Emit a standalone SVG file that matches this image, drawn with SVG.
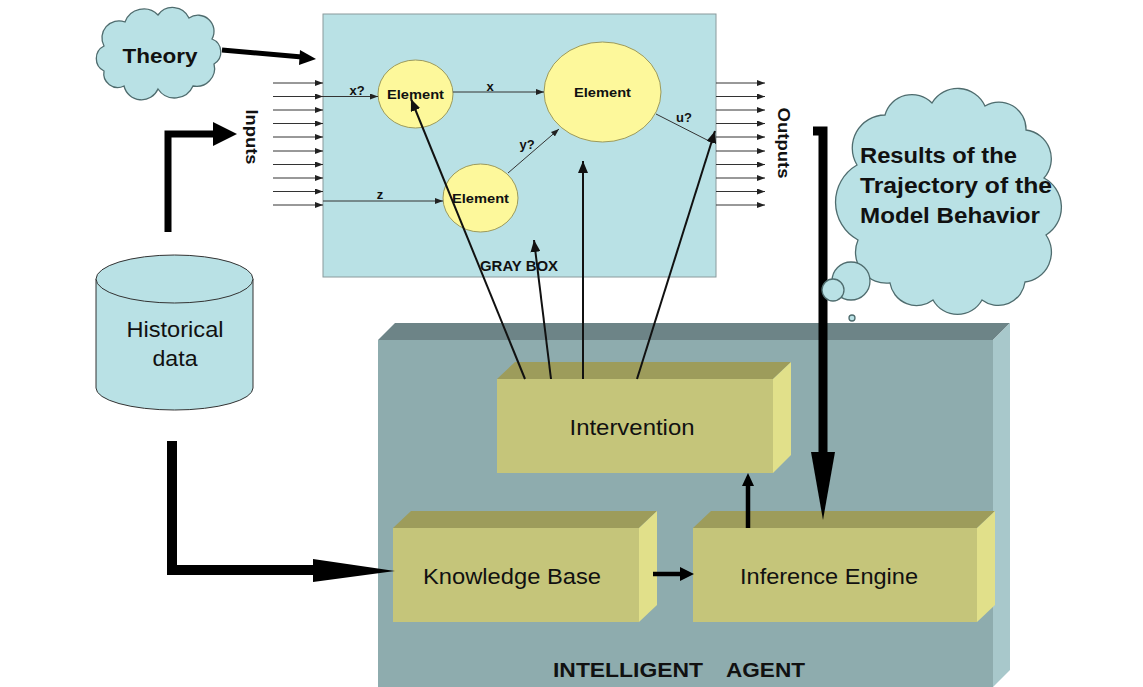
<svg xmlns="http://www.w3.org/2000/svg" width="1143" height="687" viewBox="0 0 1143 687">
<style>
.t{font-family:"Liberation Sans",Arial,sans-serif;fill:#111}
.b{font-weight:bold}
.cl{fill:#b9e1e5;stroke:#4f6c6e;stroke-width:1.3}
.el{fill:#fdf89b;stroke:#9c9a5c;stroke-width:1}
.thin{stroke:#333;stroke-width:1;fill:none}
.med{stroke:#111;stroke-width:2;fill:none}
.thick{stroke:#000;fill:none;stroke-linejoin:miter}
.yf{fill:#c5c57a}.yt{fill:#9d9c5b}.yr{fill:#e1e08a}
</style>
<defs>
<marker id="ms" markerUnits="userSpaceOnUse" markerWidth="8" markerHeight="6" refX="8" refY="3" orient="auto"><path d="M0,0 L8,3 L0,6 Z" fill="#222"/></marker>
<marker id="mm" markerUnits="userSpaceOnUse" markerWidth="12" markerHeight="10" refX="12" refY="5" orient="auto"><path d="M0,0 L12,5 L0,10 Z" fill="#111"/></marker>
</defs>
<rect width="1143" height="687" fill="#fff"/>

<g id="graybox">
<rect x="323" y="14" width="393" height="263" fill="#b9e1e5" stroke="#8a9a9c" stroke-width="1"/>
<text class="t b" x="480" y="271" font-size="14" textLength="78" lengthAdjust="spacingAndGlyphs">GRAY BOX</text>
</g>
<g id="element1">
<ellipse class="el" cx="415.5" cy="94" rx="37.5" ry="34"/>
<text class="t b" x="415.5" y="99" font-size="13.5" text-anchor="middle" textLength="57" lengthAdjust="spacingAndGlyphs">Element</text>
</g>
<g id="element2">
<ellipse class="el" cx="480.5" cy="198" rx="37.5" ry="34"/>
<text class="t b" x="480.5" y="203" font-size="13.5" text-anchor="middle" textLength="57" lengthAdjust="spacingAndGlyphs">Element</text>
</g>
<g id="element3">
<ellipse class="el" cx="602.5" cy="92" rx="58.5" ry="50"/>
<text class="t b" x="602.5" y="97" font-size="13.5" text-anchor="middle" textLength="57" lengthAdjust="spacingAndGlyphs">Element</text>
</g>
<g id="labels">
<text class="t b" x="357" y="95" font-size="13" text-anchor="middle">x?</text>
<text class="t b" x="490" y="91" font-size="13" text-anchor="middle">x</text>
<text class="t b" x="380" y="199" font-size="13" text-anchor="middle">z</text>
<text class="t b" x="527" y="149" font-size="13" text-anchor="middle">y?</text>
<text class="t b" x="684" y="122" font-size="13" text-anchor="middle">u?</text>
<text class="t b" transform="translate(246,137) rotate(90)" font-size="17" text-anchor="middle" textLength="55" lengthAdjust="spacingAndGlyphs">Inputs</text>
<text class="t b" transform="translate(778,143) rotate(90)" font-size="17" text-anchor="middle" textLength="71" lengthAdjust="spacingAndGlyphs">Outputs</text>
</g>

<g id="theory">
<path class="cl" d="M104 46 A17 17 0 0 1 125 22 A20 20 0 0 1 158 15 A18 18 0 0 1 189 18 A16 16 0 0 1 212 39 A14 14 0 0 1 214 64 A18 18 0 0 1 193 86 A20 20 0 0 1 158 89 A18 18 0 0 1 124 86 A14 14 0 0 1 104 71 A14 14 0 0 1 104 46 Z"/>
<text class="t b" x="160" y="63" font-size="21" text-anchor="middle" textLength="75" lengthAdjust="spacingAndGlyphs">Theory</text>
</g>

<g id="historical">
<path d="M96 279 L96 388 A78.5 22 0 0 0 253 388 L253 279 Z" fill="#b9e1e5" stroke="#333" stroke-width="1"/>
<ellipse cx="174.5" cy="279" rx="78.5" ry="24" fill="#b9e1e5" stroke="#333" stroke-width="1"/>
<text class="t" x="175" y="337" font-size="22" text-anchor="middle" textLength="97" lengthAdjust="spacingAndGlyphs">Historical</text>
<text class="t" x="175" y="366" font-size="22" text-anchor="middle" textLength="45" lengthAdjust="spacingAndGlyphs">data</text>
</g>

<g id="agent">
<rect x="378" y="340" width="615" height="360" fill="#8eacae"/>
<polygon points="378,340 395,323 1010,323 993,340" fill="#6d8487"/>
<polygon points="993,340 1010,323 1010,670 993,687" fill="#a8c8cb"/>
<text class="t b" x="553" y="677" font-size="20" textLength="150" lengthAdjust="spacingAndGlyphs">INTELLIGENT</text>
<text class="t b" x="726" y="677" font-size="20" textLength="79" lengthAdjust="spacingAndGlyphs">AGENT</text>
</g>
<g id="intervention">
<rect class="yf" x="497" y="379" width="276" height="94"/>
<polygon class="yt" points="497,379 515,362 791,362 773,379"/>
<polygon class="yr" points="773,379 791,362 791,455 773,473"/>
<text class="t" x="632" y="435" font-size="22" text-anchor="middle" textLength="125" lengthAdjust="spacingAndGlyphs">Intervention</text>
</g>
<g id="knowledge">
<rect class="yf" x="393" y="528" width="246" height="94"/>
<polygon class="yt" points="393,528 411,511 657,511 639,528"/>
<polygon class="yr" points="639,528 657,511 657,605 639,622"/>
<text class="t" x="512" y="584" font-size="22" text-anchor="middle" textLength="178" lengthAdjust="spacingAndGlyphs">Knowledge Base</text>
</g>
<g id="inference">
<rect class="yf" x="693" y="528" width="284" height="94"/>
<polygon class="yt" points="693,528 711,511 995,511 977,528"/>
<polygon class="yr" points="977,528 995,511 995,605 977,622"/>
<text class="t" x="829" y="584" font-size="22" text-anchor="middle" textLength="178" lengthAdjust="spacingAndGlyphs">Inference Engine</text>
</g>

<g id="connectors">
<g class="thin" marker-end="url(#ms)">
<line x1="273" y1="83" x2="323" y2="83"/>
<line x1="273" y1="96.5" x2="323" y2="96.5"/>
<line x1="273" y1="110" x2="323" y2="110"/>
<line x1="273" y1="123.5" x2="323" y2="123.5"/>
<line x1="273" y1="137" x2="323" y2="137"/>
<line x1="273" y1="151" x2="323" y2="151"/>
<line x1="273" y1="164.5" x2="323" y2="164.5"/>
<line x1="273" y1="178" x2="323" y2="178"/>
<line x1="273" y1="191.5" x2="323" y2="191.5"/>
<line x1="273" y1="205" x2="323" y2="205"/>
<line x1="716" y1="83" x2="765" y2="83"/>
<line x1="716" y1="96.5" x2="765" y2="96.5"/>
<line x1="716" y1="110" x2="765" y2="110"/>
<line x1="716" y1="123.5" x2="765" y2="123.5"/>
<line x1="716" y1="137" x2="765" y2="137"/>
<line x1="716" y1="151" x2="765" y2="151"/>
<line x1="716" y1="164.5" x2="765" y2="164.5"/>
<line x1="716" y1="178" x2="765" y2="178"/>
<line x1="716" y1="191.5" x2="765" y2="191.5"/>
<line x1="716" y1="205" x2="765" y2="205"/>
<line x1="323" y1="96.5" x2="378" y2="96.5"/>
<line x1="323" y1="201" x2="443" y2="201"/>
<line x1="453" y1="92" x2="544" y2="92"/>
<line x1="508" y1="173" x2="559" y2="129"/>
</g>
<line class="thin" x1="656" y1="114" x2="713" y2="143"/>
<g class="med" marker-end="url(#mm)">
<line x1="525" y1="379" x2="411" y2="99"/>
<line x1="551" y1="379" x2="534" y2="240"/>
<line x1="583" y1="379" x2="583" y2="161"/>
<line x1="637" y1="379" x2="715" y2="131"/>
</g>
<line class="thick" x1="222" y1="50" x2="302" y2="57" stroke-width="5"/>
<polygon points="300,50 316,59 299,65"/>
<polyline class="thick" points="168,232 168,134 215,134" stroke-width="7"/>
<polygon points="213,122 237,134 213,146"/>
<polyline class="thick" points="172,441 172,570 316,570" stroke-width="10"/>
<polygon points="313,559 395,571 313,582"/>
<polyline class="thick" points="813,131 823,131 823,455" stroke-width="9"/>
<polygon points="811,452 835,452 823,520"/>
<line class="thick" x1="653" y1="574" x2="682" y2="574" stroke-width="4.5"/>
<polygon points="680,567 694,574 680,581"/>
<line class="thick" x1="748" y1="528" x2="748" y2="484" stroke-width="4.5"/>
<polygon points="742,486 748,473 754,486"/>
</g>

<g id="results">
<path class="cl" d="M857 165 A33 33 0 0 1 885 115 A28 28 0 0 1 932 103 A30 30 0 0 1 985 106 A27 27 0 0 1 1026 130 A29 29 0 0 1 1044 178 A33 33 0 0 1 1046 235 A30 30 0 0 1 1025 282 A27 27 0 0 1 982 300 A28 28 0 0 1 933 300 A27 27 0 0 1 890 283 A31 31 0 0 1 858 240 A43 43 0 0 1 857 165 Z"/>
<circle class="cl" cx="851" cy="281" r="19"/>
<circle class="cl" cx="833" cy="290" r="11"/>
<circle class="cl" cx="852" cy="318" r="3"/>
<text class="t b" x="860" y="163" font-size="22" textLength="157" lengthAdjust="spacingAndGlyphs">Results of the</text>
<text class="t b" x="860" y="193" font-size="22" textLength="192" lengthAdjust="spacingAndGlyphs">Trajectory of the</text>
<text class="t b" x="860" y="223" font-size="22" textLength="180" lengthAdjust="spacingAndGlyphs">Model Behavior</text>
</g>
</svg>
